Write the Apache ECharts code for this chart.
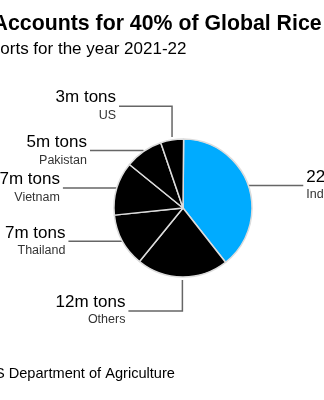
<!DOCTYPE html>
<html>
<head>
<meta charset="utf-8">
<script src="https://cdn.jsdelivr.net/npm/echarts@6/dist/echarts.min.js"></script>
<style>
html,body{margin:0;padding:0;background:#fff;}
#c{width:324px;height:400px;}
</style>
</head>
<body>
<div id="c"></div>
<script>
const titleText = 'India Accounts for 40% of Global Rice Exports';
const subtitleText = 'Exports for the year 2021-22';
const sourceText = 'Source: US Department of Agriculture';
const countries = ['India', 'Others', 'Thailand', 'Vietnam', 'Pakistan', 'US'];
const exportsMt = [22, 12, 7, 7, 5, 3];
const sliceColors = ['#00abff', '#000000', '#000000', '#000000', '#000000', '#000000'];
const lineLen1 = [1, 34, 1, 1, 1, 34];
const lineLen2 = [54, 54, 53, 53, 53, 53];

const FONT = "'Liberation Sans', Arial, Helvetica, sans-serif";

const data = countries.map((name, i) => {
  const right = i === 0;
  return {
    name: name,
    value: exportsMt[i],
    itemStyle: { color: sliceColors[i] },
    label: {
      formatter: right ? '{vl|{c}m tons}\n{nl|{b}}' : '{vr|{c}m tons}\n{nr|{b}}'
    },
    labelLine: { length: lineLen1[i], length2: lineLen2[i] }
  };
});

const chart = echarts.init(document.getElementById('c'), null, { renderer: 'canvas' });
chart.setOption({
  animation: false,
  backgroundColor: '#ffffff',
  title: [
    { text: titleText, left: -63, top: 14,
      textStyle: { fontFamily: FONT, fontSize: 21.3, fontWeight: 'bold', color: '#000' }, padding: 0 },
    { text: subtitleText, left: -29, top: 41,
      textStyle: { fontFamily: FONT, fontSize: 17, fontWeight: 'normal', color: '#000' }, padding: 0 },
    { text: sourceText, left: -70, top: 366,
      textStyle: { fontFamily: FONT, fontSize: 14.6, fontWeight: 'normal', color: '#000' }, padding: 0 }
  ],
  series: [{
    type: 'pie',
    center: [183, 208],
    radius: 69,
    startAngle: 89.5,
    clockwise: true,
    avoidLabelOverlap: false,
    silent: true,
    itemStyle: { borderColor: '#dcdcdc', borderWidth: 1.5 },
    label: {
      show: true,
      position: 'outside',
      alignTo: 'none',
      distanceToLabelLine: 3,
      fontFamily: FONT,
      overflow: 'none',
      rich: {
        vr: { fontFamily: FONT, fontSize: 17, lineHeight: 19, color: '#000', align: 'right' },
        nr: { fontFamily: FONT, fontSize: 12.5, lineHeight: 17, color: '#333', align: 'right' },
        vl: { fontFamily: FONT, fontSize: 17, lineHeight: 19, color: '#000', align: 'left' },
        nl: { fontFamily: FONT, fontSize: 12.5, lineHeight: 17, color: '#333', align: 'left' }
      }
    },
    labelLine: {
      show: true,
      smooth: false,
      minTurnAngle: 0,
      maxSurfaceAngle: 180,
      lineStyle: { color: '#666', width: 1.5 }
    },
    labelLayout: function (params) {
      const p = params.labelLinePoints;
      if (!p || p.length < 3 || lineLen1[params.dataIndex] <= 1) return {};
      const dx = p[0][0] - p[1][0];
      const dir = p[1][1] > p[0][1] ? 1 : -1;
      const r = params.labelRect;
      const rightSide = p[2][0] > p[1][0];
      return {
        x: rightSide ? r.x + dx : r.x + r.width + dx,
        y: r.y + r.height / 2,
        align: rightSide ? 'left' : 'right',
        verticalAlign: 'middle',
        labelLinePoints: [
          [p[0][0], p[0][1] + dir * 3],
          [p[0][0], p[1][1]],
          [p[2][0] + dx, p[2][1]]
        ]
      };
    },
    data: data
  }]
});
</script>
</body>
</html>
